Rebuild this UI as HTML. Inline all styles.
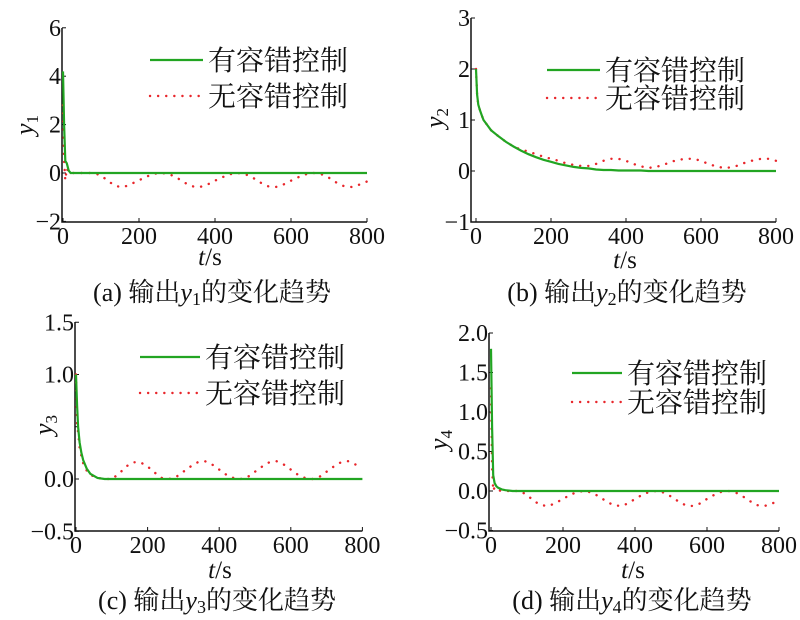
<!DOCTYPE html>
<html><head><meta charset="utf-8">
<style>
body{margin:0;background:#fff;}
svg{display:block;}
text{font-family:"Liberation Serif","Times New Roman","Noto Serif CJK SC",serif;fill:#111;}
.cjk{font-family:"Liberation Serif","Noto Serif CJK SC","Noto Sans CJK SC",serif;}
</style></head>
<body>
<svg id="fig" width="800" height="620" viewBox="0 0 800 620" xmlns="http://www.w3.org/2000/svg"></svg>
<script>
const times=[0,3,6,10,15,20,30,40,60,80,100,120,140,160,180,200,220,240,260,280,300,320,340,360,380,400,420,440,460,480,500,520,540,560,580,600,620,640,660,680,700,720,740,760,780,800];
const aGreen=[4.2,2,0.5,0.4,0.1,0,0,0,0,0,0,0,0,0,0,0,0,0,0,0,0,0,0,0,0,0,0,0,0,0,0,0,0,0,0,0,0,0,0,0,0,0,0,0,0,0];
const aRed=[2.8,0.5,-0.3,0.2,0,0,0,0,0,0,-0.1,-0.35,-0.55,-0.58,-0.45,-0.3,-0.15,-0.03,0,-0.05,-0.2,-0.4,-0.55,-0.58,-0.48,-0.32,-0.17,-0.05,0,-0.05,-0.2,-0.4,-0.55,-0.58,-0.48,-0.32,-0.17,-0.05,0,-0.05,-0.2,-0.4,-0.55,-0.58,-0.48,-0.35];
const bGreen=[2.0,1.5,1.3,1.2,1.1,1.0,0.9,0.8,0.68,0.57,0.48,0.4,0.33,0.27,0.22,0.18,0.14,0.11,0.08,0.06,0.05,0.03,0.02,0.02,0.01,0.01,0.01,0.01,0,0,0,0,0,0,0,0,0,0,0,0,0,0,0,0,0,0];
const bRed=[2.0,1.5,1.3,1.2,1.1,1.0,0.9,0.8,0.68,0.57,0.48,0.42,0.38,0.33,0.28,0.24,0.2,0.15,0.12,0.1,0.1,0.14,0.2,0.24,0.24,0.2,0.14,0.09,0.06,0.08,0.12,0.18,0.22,0.24,0.24,0.2,0.14,0.09,0.06,0.07,0.11,0.17,0.21,0.24,0.24,0.2];
const cGreen=[1.0,0.7,0.5,0.35,0.25,0.18,0.1,0.05,0.01,0,0,0,0,0,0,0,0,0,0,0,0,0,0,0,0,0,0,0,0,0,0,0,0,0,0,0,0,0,0,0,0,0,0,0,0,0];
const cRed=[1.0,0.5,0.45,0.3,0.22,0.15,0.08,0.04,0.01,0,0,0.05,0.12,0.16,0.16,0.12,0.06,0.01,0,0.02,0.07,0.12,0.16,0.17,0.14,0.09,0.04,0.01,0,0.02,0.07,0.12,0.16,0.17,0.14,0.09,0.04,0.01,0,0.02,0.07,0.12,0.16,0.17,0.14,0.12];
const dGreen=[1.8,0.8,0.2,0.1,0.06,0.04,0.02,0.01,0,0,0,0,0,0,0,0,0,0,0,0,0,0,0,0,0,0,0,0,0,0,0,0,0,0,0,0,0,0,0,0,0,0,0,0,0,0];
const dRed=[1.3,0.3,0,0.05,0.03,0.01,0,0,0,0,-0.05,-0.13,-0.18,-0.19,-0.15,-0.1,-0.05,-0.01,0,-0.02,-0.07,-0.13,-0.18,-0.19,-0.16,-0.1,-0.05,-0.01,0,-0.02,-0.07,-0.13,-0.18,-0.19,-0.16,-0.1,-0.05,-0.01,0,-0.02,-0.07,-0.13,-0.18,-0.19,-0.16,-0.12];
const xTicks=[0,200,400,600,800];
const aYTicks=["6","4","2","0","-2"];
const bYTicks=["3","2","1","0","-1"];
const cYTicks=["1.5","1.0","","0.0","-0.5"];
const cYTickVals=[1.5,1.0,0.5,0,-0.5];
const aYTickVals=[6,4,2,0,-2];
const bYTickVals=[3,2,1,0,-1];
const dYTicks=["2.0","1.5","1.0","0.5","0.0","-0.5"];
const dYTickVals=[2,1.5,1,0.5,0,-0.5];
const legendLabels=["有容错控制","无容错控制"];

const NS="http://www.w3.org/2000/svg";
const svg=document.getElementById('fig');
function mk(tag,attrs,parent,txt){const e=document.createElementNS(NS,tag);for(const k in attrs)e.setAttribute(k,attrs[k]);if(txt!==undefined)e.textContent=txt;(parent||svg).appendChild(e);return e;}

const panels=[
 {id:'a',axX:62,x0:63,xs:0.38,y0:173,ys:24.2,yTop:28,yBot:222,yt:aYTicks,yv:aYTickVals,g:aGreen,r:aRed,sub:'1',leg:[150,203,60,96],yl:[33,125],tl:[210,265],cap:[212,301],capPre:'(a) 输出'},
 {id:'b',axX:471,x0:476,xs:0.375,y0:171,ys:51,yTop:18,yBot:222,yt:bYTicks,yv:bYTickVals,g:bGreen,r:bRed,sub:'2',leg:[547,600,70,98],yl:[443,118],tl:[625,268],cap:[627,301],capPre:'(b) 输出'},
 {id:'c',axX:75,x0:76,xs:0.358,y0:479,ys:104.5,yTop:322,yBot:531,yt:cYTicks,yv:cYTickVals,g:cGreen,r:cRed,sub:'3',leg:[140,200,357,393],yl:[52,425],tl:[220,578],cap:[217,609],capPre:'(c) 输出'},
 {id:'d',axX:489,x0:491,xs:0.36,y0:491,ys:79,yTop:333,yBot:531,yt:dYTicks,yv:dYTickVals,g:dGreen,r:dRed,sub:'4',leg:[572,622,373,402],yl:[447,440],tl:[633,578],cap:[632,609],capPre:'(d) 输出'}
];
panels.forEach(p=>{
  const gp=mk('g',{});
  
  
  const X=t=>p.x0+t*p.xs, Y=v=>p.y0-v*p.ys;
  const xEnd=X(800);
  const ax=mk('path',{d:`M${p.axX},${p.yTop} V${p.yBot} H${xEnd}`,stroke:'#111','stroke-width':1.5,fill:'none'},gp);
  
  
  xTicks.forEach(t=>{
    mk('line',{x1:X(t),x2:X(t),y1:p.yBot,y2:p.yBot-4,stroke:'#111','stroke-width':1},gp);
    const tx=mk('text',{x:X(t),y:p.yBot+22,'text-anchor':'middle','font-size':24},gp,t);
    
    
  });
  p.yv.forEach((v,i)=>{
    const yy=Y(v);
    mk('line',{x1:p.axX,x2:p.axX+4,y1:yy,y2:yy,stroke:'#111','stroke-width':1},gp);
    if(p.yt[i]==='')return;
    const tx=mk('text',{x:p.axX-1,y:yy+8,'text-anchor':'end','font-size':24},gp,p.yt[i].replace('-','−'));
    
    
  });
  const pts=arr=>arr.map((v,i)=>X(times[i]).toFixed(1)+','+Y(v).toFixed(1)).join(' ');
  const rl=mk('polyline',{points:pts(p.r),fill:'none',stroke:'#e8262b','stroke-width':2.4,'stroke-dasharray':'0.1 8','stroke-linecap':'round'},gp);
  
  
  const gl=mk('polyline',{points:pts(p.g),fill:'none',stroke:'#22a522','stroke-width':2.2},gp);
  
  
  const l1=mk('line',{x1:p.leg[0],x2:p.leg[1],y1:p.leg[2],y2:p.leg[2],stroke:'#22a522','stroke-width':2.2},gp);
  
  
  const t1=mk('text',{x:p.leg[1]+5,y:p.leg[2]+10,'font-size':28,class:'cjk'},gp,legendLabels[0]);
  
  
  const l2=mk('line',{x1:p.leg[0],x2:p.leg[1],y1:p.leg[3],y2:p.leg[3],stroke:'#e8262b','stroke-width':2.4,'stroke-dasharray':'0.1 8','stroke-linecap':'round'},gp);
  
  
  const t2=mk('text',{x:p.leg[1]+5,y:p.leg[3]+10,'font-size':28,class:'cjk'},gp,legendLabels[1]);
  
  
  const yl=mk('text',{x:0,y:0,'font-size':26,'font-style':'italic',transform:`translate(${p.yl[0]},${p.yl[1]}) rotate(-90)`,'text-anchor':'middle'},gp);
  
  
  mk('tspan',{},yl,'y');
  mk('tspan',{'font-style':'normal','font-size':17,dy:5},yl,p.sub);
  const xl=mk('text',{x:p.tl[0],y:p.tl[1],'text-anchor':'middle','font-size':25},gp);
  
  
  mk('tspan',{'font-style':'italic'},xl,'t');
  mk('tspan',{},xl,'/s');
  const cp=mk('text',{x:p.cap[0],y:p.cap[1],'text-anchor':'middle','font-size':26,class:'cjk'},gp);
  
  
  mk('tspan',{},cp,p.capPre);
  mk('tspan',{'font-style':'italic'},cp,'y');
  mk('tspan',{'font-size':18,dy:4},cp,p.sub);
  mk('tspan',{dy:-4},cp,'的变化趋势');
});
</script>
</body></html>
